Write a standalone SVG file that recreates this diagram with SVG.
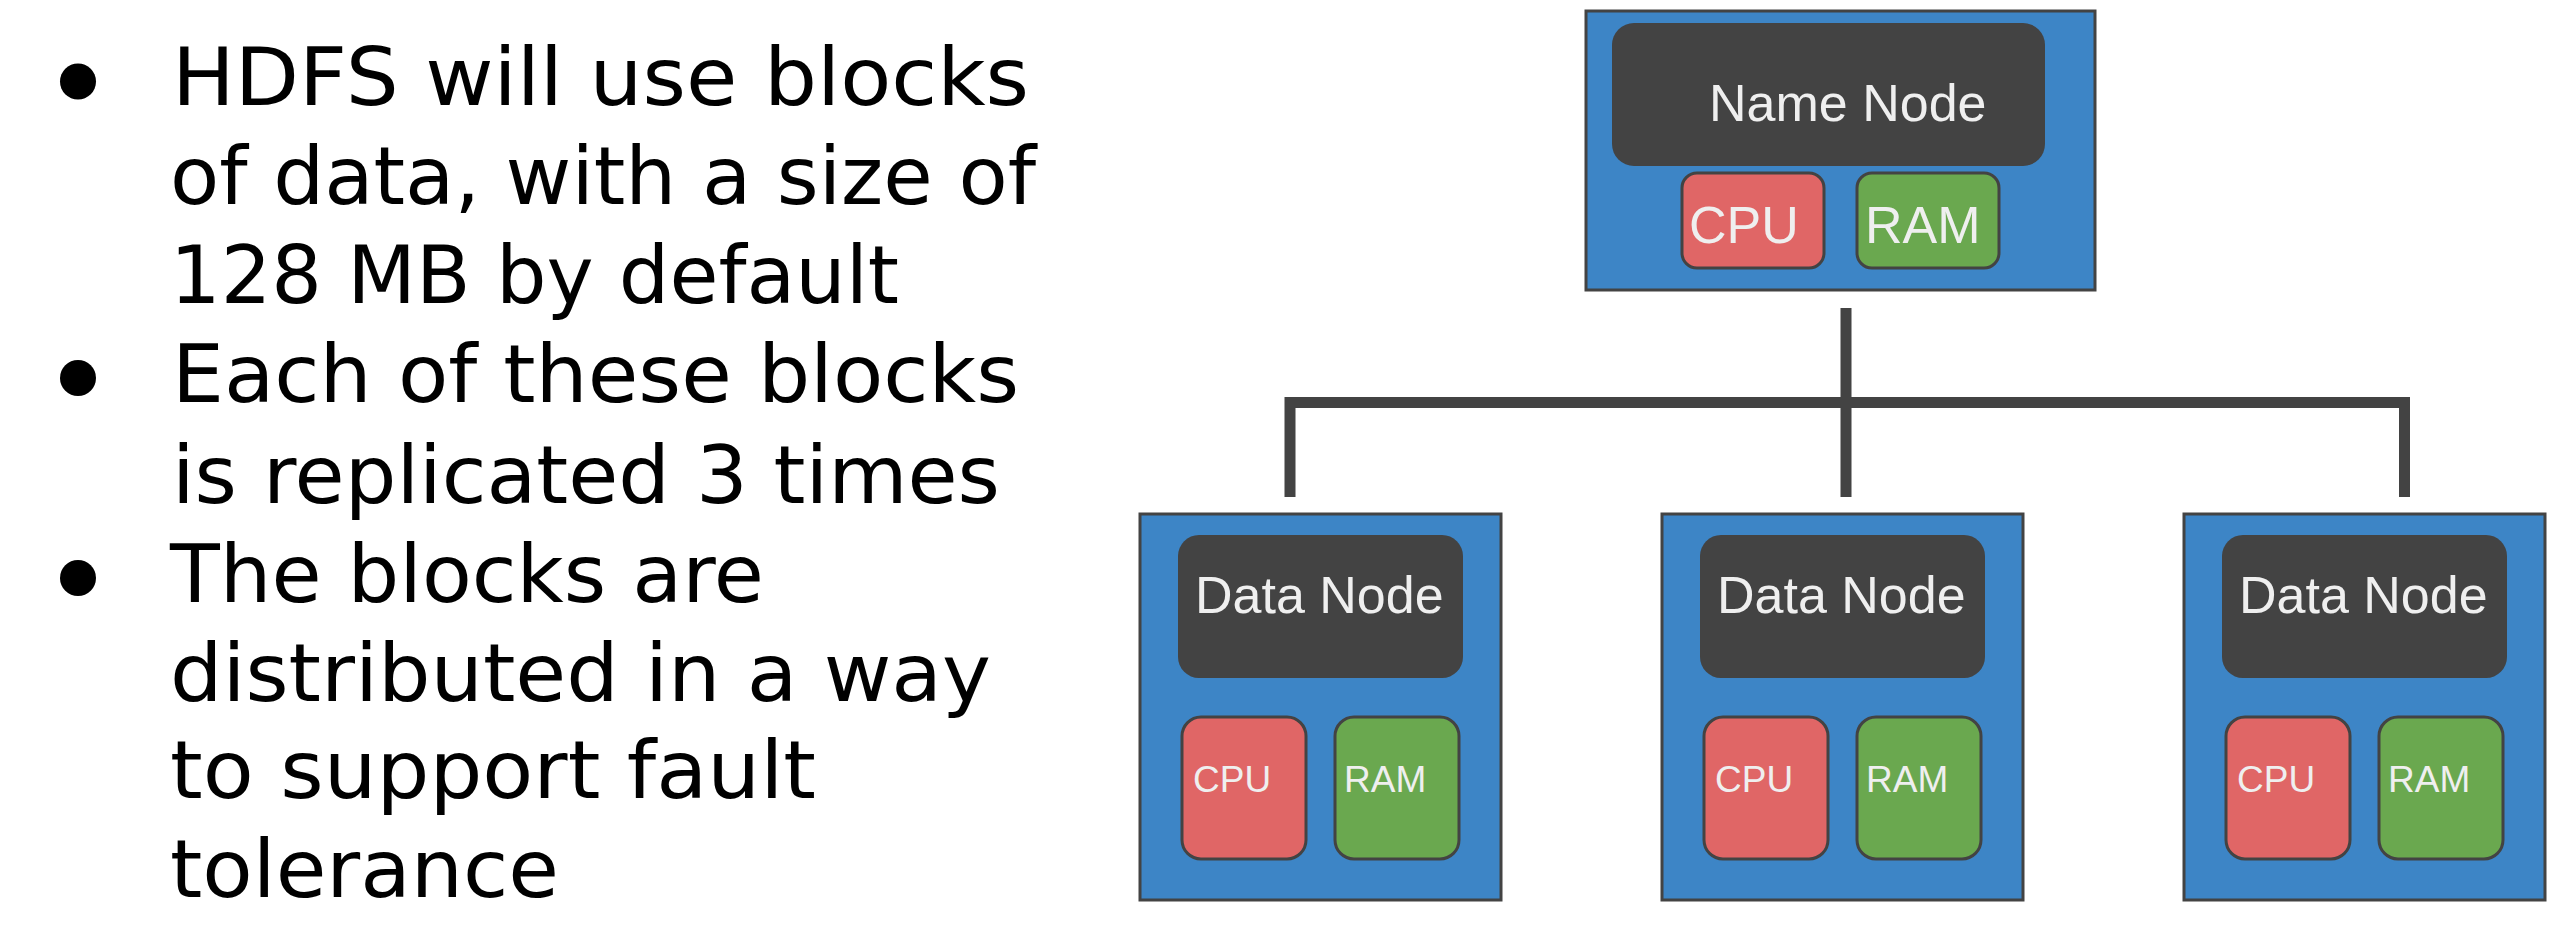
<svg xmlns="http://www.w3.org/2000/svg" width="2569" height="951" viewBox="0 0 2569 951">
<style>
.bt{font-family:"DejaVu Sans","Noto Sans",sans-serif;font-size:80px;fill:#000}
.box{fill:#3d85c6;stroke:#434343;stroke-width:3}
.dark{fill:#434343}
.cpu{fill:#e06666;stroke:#434343;stroke-width:3}
.ram{fill:#6aa84f;stroke:#434343;stroke-width:3}
.lbl{font-family:"Liberation Sans",Arial,sans-serif;fill:#efefef}
.conn{fill:none;stroke:#434343;stroke-width:11;stroke-linecap:butt;stroke-linejoin:miter}
</style>
<rect width="2569" height="951" fill="#ffffff"/>
<g id="bullets">
<circle cx="78" cy="81.5" r="18" fill="#000"/>
<circle cx="78" cy="378" r="18" fill="#000"/>
<circle cx="78" cy="578" r="18" fill="#000"/>
<text class="bt" x="172" y="105" textLength="857" lengthAdjust="spacingAndGlyphs">HDFS will use blocks</text>
<text class="bt" x="170" y="204" textLength="866" lengthAdjust="spacingAndGlyphs">of data, with a size of</text>
<text class="bt" x="170" y="303" textLength="729" lengthAdjust="spacingAndGlyphs">128 MB by default</text>
<text class="bt" x="172" y="402" textLength="847" lengthAdjust="spacingAndGlyphs">Each of these blocks</text>
<text class="bt" x="172" y="503" textLength="828" lengthAdjust="spacingAndGlyphs">is replicated 3 times</text>
<text class="bt" x="170" y="602" textLength="594" lengthAdjust="spacingAndGlyphs">The blocks are</text>
<text class="bt" x="170" y="701" textLength="821" lengthAdjust="spacingAndGlyphs">distributed in a way</text>
<text class="bt" x="170" y="798" textLength="646" lengthAdjust="spacingAndGlyphs">to support fault</text>
<text class="bt" x="170" y="897" textLength="389" lengthAdjust="spacingAndGlyphs">tolerance</text>
</g>
<g id="connectors">
<path class="conn" d="M1846,308 V497"/>
<path class="conn" d="M1290,497 V402.5 H2404.5 V497"/>
</g>
<g id="name-node">
<rect class="box" x="1586" y="11" width="509" height="279"/>
<rect class="dark" x="1612" y="23" width="433" height="143" rx="22"/>
<text class="lbl" x="1709" y="121" font-size="52">Name Node</text>
<rect class="cpu" x="1682" y="173" width="142" height="95" rx="15"/>
<text class="lbl" x="1689" y="243" font-size="52">CPU</text>
<rect class="ram" x="1857" y="173" width="142" height="95" rx="15"/>
<text class="lbl" x="1865" y="243" font-size="52">RAM</text>
</g>
<g id="data-node-1" transform="translate(1140,514)">
<rect class="box" x="0" y="0" width="361" height="386"/>
<rect class="dark" x="38" y="21" width="285" height="143" rx="21"/>
<text class="lbl" x="55" y="99" font-size="52">Data Node</text>
<rect class="cpu" x="42" y="203" width="124" height="142" rx="19"/>
<text class="lbl" x="53" y="278" font-size="37">CPU</text>
<rect class="ram" x="195" y="203" width="124" height="142" rx="19"/>
<text class="lbl" x="204" y="278" font-size="37">RAM</text>
</g>
<g id="data-node-2" transform="translate(1662,514)">
<rect class="box" x="0" y="0" width="361" height="386"/>
<rect class="dark" x="38" y="21" width="285" height="143" rx="21"/>
<text class="lbl" x="55" y="99" font-size="52">Data Node</text>
<rect class="cpu" x="42" y="203" width="124" height="142" rx="19"/>
<text class="lbl" x="53" y="278" font-size="37">CPU</text>
<rect class="ram" x="195" y="203" width="124" height="142" rx="19"/>
<text class="lbl" x="204" y="278" font-size="37">RAM</text>
</g>
<g id="data-node-3" transform="translate(2184,514)">
<rect class="box" x="0" y="0" width="361" height="386"/>
<rect class="dark" x="38" y="21" width="285" height="143" rx="21"/>
<text class="lbl" x="55" y="99" font-size="52">Data Node</text>
<rect class="cpu" x="42" y="203" width="124" height="142" rx="19"/>
<text class="lbl" x="53" y="278" font-size="37">CPU</text>
<rect class="ram" x="195" y="203" width="124" height="142" rx="19"/>
<text class="lbl" x="204" y="278" font-size="37">RAM</text>
</g>
</svg>
